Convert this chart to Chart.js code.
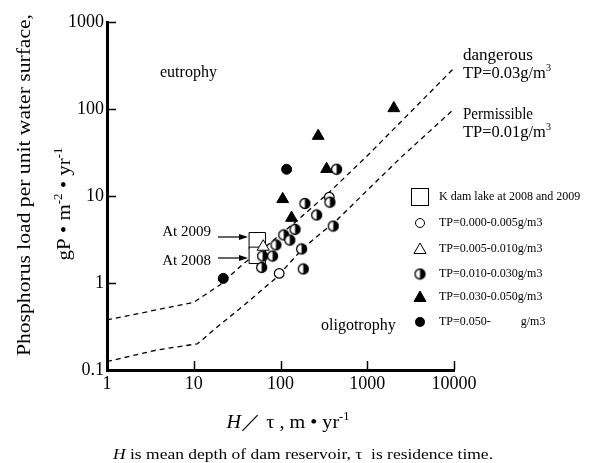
<!DOCTYPE html>
<html lang="en">
<head>
<meta charset="UTF-8">
<title>Phosphorus load vs H/tau</title>
<script src="https://cdn.jsdelivr.net/npm/chart.js@4.4.1/dist/chart.umd.min.js"></script>
<style>
  body { margin: 0; background: #fff; }
  canvas { display: block; }
</style>
</head>
<body>
<canvas id="chart" width="590" height="463"></canvas>
<script>
// values: x = H/tau (m/yr), y = P load (gP/m2/yr)
const tickValsX = [1, 10, 100, 1000, 10000];
const tickValsY = [0.1, 1, 10, 100, 1000];

const kdamX = [54, 54];
const kdamY = [3.06, 2.08];

const tp1X = [96.6, 365];          // TP=0.000-0.005
const tp1Y = [1.29, 9.7];

const tp2X = [63.2];               // TP=0.005-0.010
const tp2Y = [2.61];

const tp3X = [443, 191, 371, 261, 147, 109, 128, 88.5, 175, 62.2, 81.1, 60.6, 183, 405];  // 0.010-0.030
const tp3Y = [20.3, 8.2, 8.5, 6.05, 4.14, 3.57, 3.12, 2.74, 2.46, 2.04, 2.04, 1.51, 1.45, 4.52];

const tp4X = [340, 106, 134, 272, 2025];   // 0.030-0.050
const tp4Y = [20.4, 9.2, 5.6, 49, 102];

const tp5X = [117.6, 21.9];        // 0.050-
const tp5Y = [20.3, 1.13];

// dashed boundary lines
const dangerX = [1, 3, 10, 20, 37, 70, 155, 370, 1070, 10000];
const dangerY = [0.376, 0.47, 0.6, 0.95, 1.65, 2.7, 5.2, 11.2, 31, 295];
const permitX = [1, 3.77, 11, 18.5, 40, 91, 181, 447, 2375, 10000];
const permitY = [0.125, 0.17, 0.2, 0.31, 0.58, 1.17, 2.5, 5.3, 27, 100];

const legendLabels = [
  'K dam lake at 2008 and 2009',
  'TP=0.000-0.005g/m3',
  'TP=0.005-0.010g/m3',
  'TP=0.010-0.030g/m3',
  'TP=0.030-0.050g/m3',
  'TP=0.050-          g/m3'
];

const SERIF = '"Liberation Serif", "Times New Roman", serif';

function pts(xs, ys) {
  return xs.map((x, i) => ({ x: x, y: ys[i] }));
}

// half filled circle (left white, right black)
function halfDot(r) {
  const c = document.createElement('canvas');
  const s = Math.ceil(2 * r + 3);
  c.width = s; c.height = s;
  const g = c.getContext('2d');
  const m = s / 2;
  g.beginPath(); g.arc(m, m, r, 0, Math.PI * 2); g.fillStyle = '#fff'; g.fill();
  g.beginPath(); g.moveTo(m, m - r); g.arc(m, m, r, -Math.PI / 2, Math.PI / 2); g.closePath();
  g.fillStyle = '#000'; g.fill();
  g.beginPath(); g.arc(m, m, r, 0, Math.PI * 2); g.lineWidth = 1.3; g.strokeStyle = '#000'; g.stroke();
  return c;
}
const halfImg = halfDot(5);

// text runs with italics / superscripts; optional stretch to a target width
function richText(ctx, parts, x, y, size, align, fitW) {
  const fontFor = p => (p.it ? 'italic ' : '') + (p.sup ? size * 0.62 : size) + 'px ' + SERIF;
  let w = 0;
  parts.forEach(p => { ctx.font = fontFor(p); w += ctx.measureText(p.t).width; });
  const k = fitW ? fitW / w : 1;
  ctx.save();
  ctx.translate(x, y);
  ctx.scale(k, 1);
  let cx = align === 'center' ? -w / 2 : (align === 'right' ? -w : 0);
  ctx.textAlign = 'left';
  ctx.textBaseline = 'alphabetic';
  parts.forEach(p => {
    ctx.font = fontFor(p);
    ctx.fillText(p.t, cx, p.sup ? -size * 0.42 : 0);
    cx += ctx.measureText(p.t).width;
  });
  ctx.restore();
}

function tri(ctx, x, y, r, fill) {
  ctx.beginPath();
  ctx.moveTo(x, y - r);
  ctx.lineTo(x + 0.866 * r, y + r / 2);
  ctx.lineTo(x - 0.866 * r, y + r / 2);
  ctx.closePath();
  ctx.fillStyle = fill; ctx.fill();
  ctx.lineWidth = 1; ctx.strokeStyle = '#000'; ctx.stroke();
}

function arrow(ctx, x0, x1, y) {
  ctx.beginPath();
  ctx.moveTo(x0, y); ctx.lineTo(x1 - 6, y);
  ctx.lineWidth = 1.2; ctx.strokeStyle = '#000'; ctx.stroke();
  ctx.beginPath();
  ctx.moveTo(x1, y); ctx.lineTo(x1 - 9, y - 3); ctx.lineTo(x1 - 9, y + 3); ctx.closePath();
  ctx.fillStyle = '#000'; ctx.fill();
}

const decor = {
  id: 'decor',
  afterDraw(chart) {
    const ctx = chart.ctx;
    const xs = chart.scales.x, ys = chart.scales.y;
    const a = chart.chartArea;
    ctx.save();
    ctx.fillStyle = '#000';
    ctx.strokeStyle = '#000';

    // inner tick marks
    ctx.lineWidth = 1.5;
    tickValsX.slice(1).forEach(v => {
      const px = Math.round(xs.getPixelForValue(v)) + 0.5;
      ctx.beginPath(); ctx.moveTo(px, a.bottom); ctx.lineTo(px, a.bottom - 9); ctx.stroke();
    });
    tickValsY.slice(1).forEach(v => {
      const py = Math.round(ys.getPixelForValue(v)) + 0.5;
      ctx.beginPath(); ctx.moveTo(a.left, py); ctx.lineTo(a.left + 9, py); ctx.stroke();
    });

    // y axis title (two lines, rotated)
    ctx.save();
    ctx.translate(30, 185);
    ctx.rotate(-Math.PI / 2);
    richText(ctx, [{ t: 'Phosphorus load per unit water surface,' }], 0, 0, 19, 'center', 342);
    ctx.restore();
    ctx.save();
    ctx.translate(70, 204);
    ctx.rotate(-Math.PI / 2);
    richText(ctx, [{ t: 'gP \u2022 m' }, { t: '-2', sup: true }, { t: ' \u2022 yr' }, { t: '-1', sup: true }], 0, 0, 19, 'center', 113);
    ctx.restore();

    // x axis title and caption
    richText(ctx, [{ t: 'H', it: true }, { t: '\uFF0F \u03C4 , m \u2022 yr' }, { t: '-1', sup: true }], 288, 428, 19, 'center', 123);
    richText(ctx, [{ t: 'H', it: true }, { t: ' is mean depth of dam reservoir, \u03C4  is residence time.' }], 303, 459, 15, 'center', 380);

    // region labels
    ctx.font = '16px ' + SERIF;
    ctx.textAlign = 'left';
    ctx.textBaseline = 'middle';
    ctx.fillText('eutrophy', 160, 73);
    ctx.fillText('oligotrophy', 321, 326);
    richText(ctx, [{ t: 'dangerous' }], 463, 60, 16, 'left', 70);
    richText(ctx, [{ t: 'TP=0.03g/m' }, { t: '3', sup: true }], 463, 78, 16, 'left', 88);
    richText(ctx, [{ t: 'Permissible' }], 463, 119, 16, 'left', 70);
    richText(ctx, [{ t: 'TP=0.01g/m' }, { t: '3', sup: true }], 463, 137, 16, 'left', 88);

    // K dam annotations
    ctx.font = '15px ' + SERIF;
    ctx.textAlign = 'right';
    ctx.textBaseline = 'middle';
    ctx.fillText('At 2009', 211, 232);
    ctx.fillText('At 2008', 211, 261);
    arrow(ctx, 218, 248, 237);
    arrow(ctx, 218, 248, 258);

    // legend
    const lx = 420, ly = [197, 223, 249, 274, 297, 322];
    ctx.lineWidth = 1;
    ctx.fillStyle = '#fff';
    ctx.fillRect(lx - 8.5, ly[0] - 8.5, 17, 17);
    ctx.strokeRect(lx - 8.5, ly[0] - 8.5, 17, 17);
    ctx.beginPath(); ctx.arc(lx, ly[1], 4.5, 0, Math.PI * 2); ctx.fillStyle = '#fff'; ctx.fill(); ctx.stroke();
    tri(ctx, lx, ly[2] + 1, 7, '#fff');
    ctx.drawImage(halfImg, lx - halfImg.width / 2, ly[3] - halfImg.height / 2);
    tri(ctx, lx, ly[4] + 1, 7, '#000');
    ctx.beginPath(); ctx.arc(lx, ly[5], 5, 0, Math.PI * 2); ctx.fillStyle = '#000'; ctx.fill();
    ctx.fillStyle = '#000';
    ctx.font = '12px ' + SERIF;
    ctx.textAlign = 'left';
    ctx.textBaseline = 'middle';
    legendLabels.forEach((s, i) => ctx.fillText(s, 439, ly[i]));

    ctx.restore();
  }
};

const lineStyle = {
  type: 'line', showLine: true, fill: false, borderColor: '#000', borderWidth: 1.3,
  borderDash: [5, 4], pointRadius: 0, tension: 0, order: 20
};

new Chart(document.getElementById('chart'), {
  type: 'scatter',
  data: {
    datasets: [
      Object.assign({ label: 'dangerous TP=0.03', data: pts(dangerX, dangerY) }, lineStyle),
      Object.assign({ label: 'Permissible TP=0.01', data: pts(permitX, permitY) }, lineStyle),
      { label: 'K dam lake', data: pts(kdamX, kdamY), pointStyle: 'rect', pointRadius: 11.6,
        backgroundColor: '#fff', borderColor: '#000', borderWidth: 1, order: 10 },
      { label: 'TP=0.000-0.005', data: pts(tp1X, tp1Y), pointStyle: 'circle', pointRadius: 4.8,
        backgroundColor: '#fff', borderColor: '#000', borderWidth: 1.2, order: 5 },
      { label: 'TP=0.005-0.010', data: pts(tp2X, tp2Y), pointStyle: 'triangle', pointRadius: 7,
        backgroundColor: '#fff', borderColor: '#000', borderWidth: 1, order: 1 },
      { label: 'TP=0.010-0.030', data: pts(tp3X, tp3Y), pointStyle: halfImg, order: 4 },
      { label: 'TP=0.030-0.050', data: pts(tp4X, tp4Y), pointStyle: 'triangle', pointRadius: 6.8,
        backgroundColor: '#000', borderColor: '#000', borderWidth: 1, order: 3 },
      { label: 'TP=0.050-', data: pts(tp5X, tp5Y), pointStyle: 'circle', pointRadius: 5,
        backgroundColor: '#000', borderColor: '#000', borderWidth: 1, order: 3 }
    ]
  },
  options: {
    responsive: false,
    animation: false,
    devicePixelRatio: 1,
    layout: { padding: { top: 22, right: 136, left: 0, bottom: 0 } },
    plugins: { legend: { display: false }, tooltip: { enabled: false } },
    scales: {
      x: {
        type: 'logarithmic', min: 1, max: 10000,
        afterBuildTicks: s => { s.ticks = tickValsX.map(v => ({ value: v })); },
        afterFit: s => { s.height = 93; },
        grid: { display: false, drawTicks: false },
        border: { display: true, color: '#000', width: 3 },
        ticks: { autoSkip: false, maxRotation: 0, padding: 3, color: '#000',
                 font: { family: 'Liberation Serif', size: 18 }, callback: v => String(v) }
      },
      y: {
        type: 'logarithmic', min: 0.1, max: 1000,
        afterBuildTicks: s => { s.ticks = tickValsY.map(v => ({ value: v })); },
        afterFit: s => { s.width = 107; },
        grid: { display: false, drawTicks: false },
        border: { display: true, color: '#000', width: 3 },
        ticks: { autoSkip: false, padding: 3, color: '#000',
                 font: { family: 'Liberation Serif', size: 18 }, callback: v => String(v) }
      }
    }
  },
  plugins: [decor]
});
</script>
</body>
</html>
